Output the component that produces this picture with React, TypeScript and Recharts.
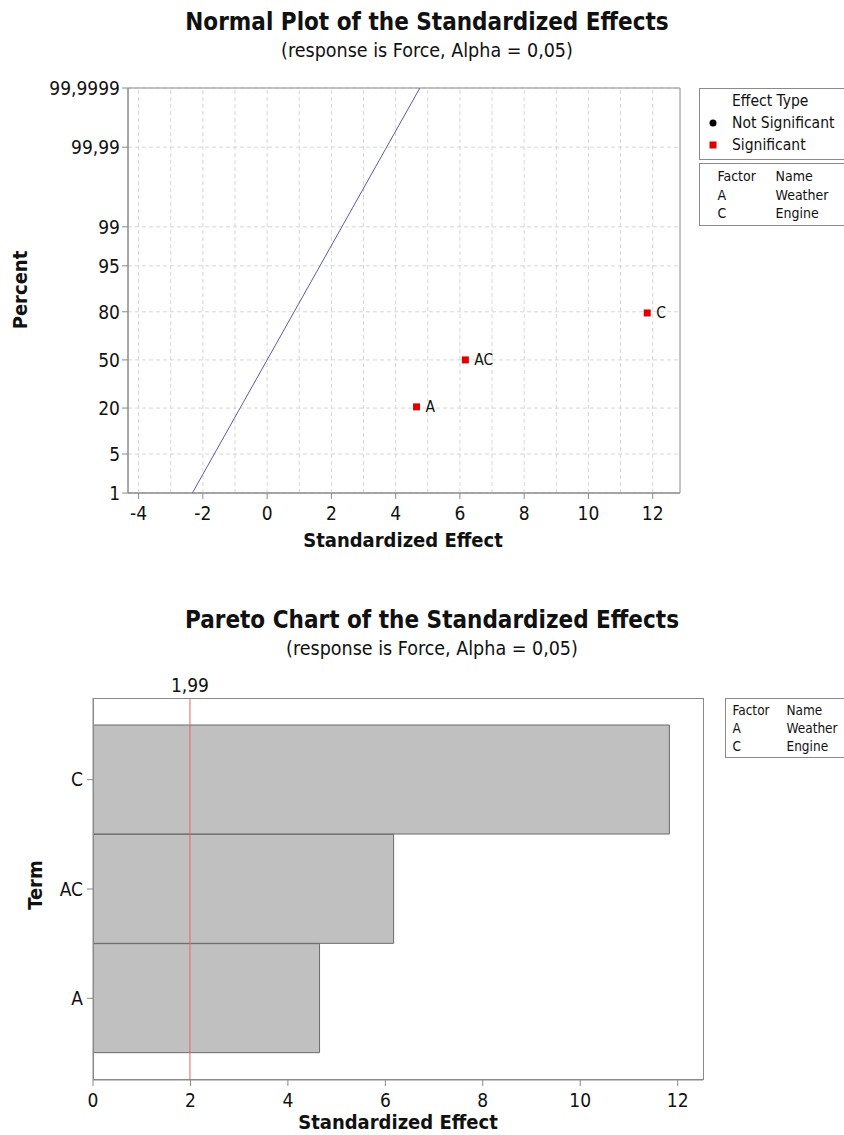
import {
  ComposedChart,
  Scatter,
  Line,
  XAxis,
  YAxis,
  CartesianGrid,
  ReferenceLine,
  ReferenceArea,
  BarChart,
  Bar,
} from 'recharts';

// effects, as estimated by the model
const terms = ['A', 'AC', 'C'];
const effects = [4.65, 6.17, 11.83];
// normal plotting positions (%) of the ordered effects
const percents = [20.59, 50, 79.41];
const criticalValue = 1.99;
const criticalLabel = '1,99';

const percentTicks = [1, 5, 20, 50, 80, 95, 99, 99.99, 99.9999];
const percentLabels = ['1', '5', '20', '50', '80', '95', '99', '99,99', '99,9999'];
const normalXTicks = [-4, -2, 0, 2, 4, 6, 8, 10, 12];
const normalXDomain = [-4.33, 12.85];
const paretoXTicks = [0, 2, 4, 6, 8, 10, 12];
const paretoXDomain = [0, 12.52];

const factorCodes = ['A', 'C'];
const factorNames = ['Weather', 'Engine'];

const FONT = '"DejaVu Sans Condensed", "DejaVu Sans", sans-serif';
const AXIS = '#8a8a8a';
const GRID = '#d6d6d6';

// inverse standard normal CDF (Acklam)
function probit(p: number): number {
  const a = [-39.69683028665376, 220.9460984245205, -275.9285104469687, 138.357751867269, -30.66479806614716, 2.506628277459239];
  const b = [-54.47609879822406, 161.5858368580409, -155.6989798598866, 66.80131188771972, -13.28068155288572];
  const c = [-0.007784894002430293, -0.3223964580411365, -2.400758277161838, -2.549671010229297, 4.374664141464968, 2.938163982698783];
  const d = [0.007784695709041462, 0.3224671290700398, 2.445134137142996, 3.754408661907416];
  const tail = (q: number) =>
    (((((c[0] * q + c[1]) * q + c[2]) * q + c[3]) * q + c[4]) * q + c[5]) /
    ((((d[0] * q + d[1]) * q + d[2]) * q + d[3]) * q + 1);
  if (p < 0.02425) return tail(Math.sqrt(-2 * Math.log(p)));
  if (p > 1 - 0.02425) return -tail(Math.sqrt(-2 * Math.log(1 - p)));
  const q = p - 0.5;
  const r = q * q;
  return (
    ((((((a[0] * r + a[1]) * r + a[2]) * r + a[3]) * r + a[4]) * r + a[5]) * q) /
    (((((b[0] * r + b[1]) * r + b[2]) * r + b[3]) * r + b[4]) * r + 1)
  );
}

const zTicks = percentTicks.map((p) => probit(p / 100));
const zDomain = [zTicks[0], zTicks[zTicks.length - 1]];

const normalPoints = terms.map((term, i) => ({
  term,
  x: effects[i],
  z: probit(percents[i] / 100),
}));
// reference line for effects with no real influence: N(0, 1)
const referenceLine = zDomain.map((z) => ({ x: z, z }));

const gridX: number[] = [];
for (let v = Math.ceil(normalXDomain[0]); v <= normalXDomain[1]; v++) gridX.push(v);

const paretoData = terms
  .map((term, i) => ({ term, effect: effects[i] }))
  .sort((p, q) => q.effect - p.effect);

const tickStyle = { fontSize: 19, fill: '#111', fontFamily: FONT };

function SignificantPoint(props: any) {
  const { cx, cy, payload } = props;
  return (
    <g>
      <rect x={cx - 3.5} y={cy - 3.5} width={7} height={7} fill="#e00000" />
      <text x={cx + 9} y={cy} dominantBaseline="central" fontSize={15.5} fontFamily={FONT} fill="#111">
        {payload.term}
      </text>
    </g>
  );
}

function FactorTable(props: { x: number; y: number; w: number; h: number; size: number; col1: number; col2: number }) {
  const { x, y, w, h, size, col1, col2 } = props;
  const rowH = (h - 6) / 3;
  return (
    <g fontFamily={FONT} fontSize={size} fill="#111">
      <rect x={x} y={y} width={w} height={h} fill="#fff" stroke={AXIS} />
      <text x={x + col1} y={y + 3 + rowH / 2} dominantBaseline="central">Factor</text>
      <text x={x + col2} y={y + 3 + rowH / 2} dominantBaseline="central">Name</text>
      {factorCodes.map((code, i) => (
        <g key={code}>
          <text x={x + col1} y={y + 3 + rowH * (i + 1.5)} dominantBaseline="central">{code}</text>
          <text x={x + col2} y={y + 3 + rowH * (i + 1.5)} dominantBaseline="central">{factorNames[i]}</text>
        </g>
      ))}
    </g>
  );
}

export default function App() {
  return (
    <div style={{ position: 'absolute', left: 0, top: 0, width: 844, height: 1135, background: '#fff' }}>
      <div style={{ position: 'absolute', left: 0, top: 0 }}>
        <ComposedChart width={844} height={560} margin={{ top: 88, right: 164, bottom: 0, left: 0 }}>
          <CartesianGrid vertical={false} stroke={GRID} strokeDasharray="4 3" />
          {gridX.map((v) => (
            <ReferenceLine key={v} x={v} stroke={GRID} strokeDasharray="4 3" />
          ))}
          <XAxis
            type="number"
            dataKey="x"
            domain={normalXDomain}
            ticks={normalXTicks}
            allowDataOverflow
            height={67}
            stroke={AXIS}
            tick={tickStyle}
            tickMargin={8}
            tickLine={{ stroke: AXIS }}
          />
          <YAxis
            type="number"
            dataKey="z"
            domain={zDomain}
            ticks={zTicks}
            allowDataOverflow
            width={128}
            stroke={AXIS}
            tick={tickStyle}
            tickLine={{ stroke: AXIS }}
            tickFormatter={(_v: number, i: number) => percentLabels[i]}
          />
          <ReferenceArea
            x1={normalXDomain[0]}
            x2={normalXDomain[1]}
            y1={zDomain[0]}
            y2={zDomain[1]}
            fill="none"
            stroke={AXIS}
          />
          <Line
            data={referenceLine}
            dataKey="z"
            type="linear"
            stroke="#5b5ba6"
            strokeWidth={1}
            dot={false}
            isAnimationActive={false}
          />
          <Scatter data={normalPoints} dataKey="z" shape={<SignificantPoint />} isAnimationActive={false} />
        </ComposedChart>
      </div>

      <div style={{ position: 'absolute', left: 0, top: 660 }}>
        <BarChart
          width={844}
          height={475}
          layout="vertical"
          data={paretoData}
          barCategoryGap={0}
          margin={{ top: 38, right: 141, bottom: 0, left: 0 }}
        >
          <XAxis
            type="number"
            domain={paretoXDomain}
            ticks={paretoXTicks}
            allowDataOverflow
            height={55}
            stroke={AXIS}
            tick={tickStyle}
            tickMargin={8}
            tickLine={{ stroke: AXIS }}
          />
          <YAxis
            type="category"
            dataKey="term"
            width={93}
            padding={{ top: 27, bottom: 27 }}
            stroke={AXIS}
            tick={tickStyle}
            tickMargin={4}
            tickLine={{ stroke: AXIS }}
          />
          <Bar dataKey="effect" fill="#c0c0c0" stroke="#6a6a6a" isAnimationActive={false} />
          <ReferenceLine
            x={criticalValue}
            stroke="#ee6262"
            label={{ value: criticalLabel, position: 'top', fontSize: 19, fill: '#111', fontFamily: FONT, offset: 6 }}
          />
        </BarChart>
      </div>

      <svg width={844} height={1135} style={{ position: 'absolute', left: 0, top: 0, pointerEvents: 'none' }}>
        <g fontFamily={FONT} fill="#111" textAnchor="middle">
          <text x={427} y={22} dominantBaseline="central" fontSize={24} fontWeight="bold">
            Normal Plot of the Standardized Effects
          </text>
          <text x={427} y={50} dominantBaseline="central" fontSize={19.5}>
            (response is Force, Alpha = 0,05)
          </text>
          <text x={403} y={540} dominantBaseline="central" fontSize={20} fontWeight="bold">
            Standardized Effect
          </text>
          <text transform="translate(20 290) rotate(-90)" dominantBaseline="central" fontSize={20} fontWeight="bold">
            Percent
          </text>

          <text x={432} y={620} dominantBaseline="central" fontSize={24} fontWeight="bold">
            Pareto Chart of the Standardized Effects
          </text>
          <text x={432} y={648} dominantBaseline="central" fontSize={19.5}>
            (response is Force, Alpha = 0,05)
          </text>
          <text x={398} y={1122} dominantBaseline="central" fontSize={20} fontWeight="bold">
            Standardized Effect
          </text>
          <text transform="translate(35 885) rotate(-90)" dominantBaseline="central" fontSize={20} fontWeight="bold">
            Term
          </text>
        </g>

        {/* pareto frame: top and right edges */}
        <rect x={93.5} y={698.5} width={610} height={381} fill="none" stroke={AXIS} />

        <g fontFamily={FONT} fontSize={15.5} fill="#111">
          <rect x={699.5} y={88.5} width={150} height={71} fill="#fff" stroke={AXIS} />
          <text x={732} y={101} dominantBaseline="central">Effect Type</text>
          <circle cx={713} cy={123} r={3.5} fill="#000" />
          <text x={732} y={123} dominantBaseline="central">Not Significant</text>
          <rect x={709.5} y={141.5} width={7} height={7} fill="#e00000" />
          <text x={732} y={145} dominantBaseline="central">Significant</text>
        </g>
        <FactorTable x={699.5} y={163.5} w={150} h={62} size={14} col1={18} col2={76} />
        <FactorTable x={725.5} y={698.5} w={125} h={59} size={13.5} col1={7} col2={61} />
      </svg>
    </div>
  );
}
